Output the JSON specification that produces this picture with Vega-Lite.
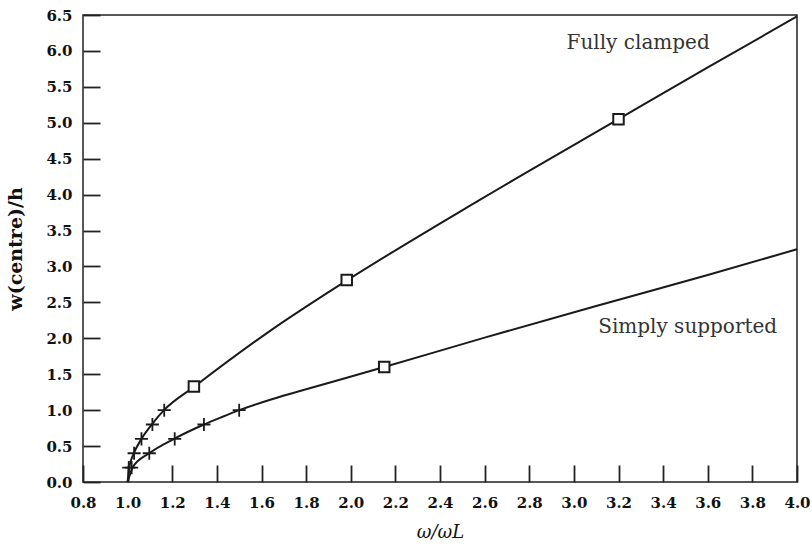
{
  "$schema": "https://vega.github.io/schema/vega-lite/v6.json",
  "width": 714,
  "height": 467,
  "autosize": {"type": "none"},
  "padding": {"left": 83, "top": 15, "right": 15, "bottom": 67},
  "background": "white",
  "config": {
    "view": {"stroke": "#222", "strokeWidth": 1.5},
    "font": "DejaVu Serif",
    "axis": {
      "grid": false,
      "zindex": 2,
      "domain": false,
      "offset": -17,
      "ticks": true,
      "tickColor": "#222",
      "tickWidth": 1.8,
      "tickSize": 17,
      "labelOverlap": false,
      "labelFlush": false,
      "labelFont": "DejaVu Serif",
      "labelFontSize": 15,
      "labelFontWeight": "bold",
      "labelColor": "#111",
      "titleFont": "DejaVu Serif",
      "titleFontWeight": "bold",
      "titleFontSize": 19,
      "titleColor": "#111"
    }
  },
  "datasets": {
    "curves": [
      {"case": "Fully clamped", "ratio": 1.0, "w": 0.0},
      {"case": "Fully clamped", "ratio": 1.007, "w": 0.2},
      {"case": "Fully clamped", "ratio": 1.028, "w": 0.4},
      {"case": "Fully clamped", "ratio": 1.062, "w": 0.6},
      {"case": "Fully clamped", "ratio": 1.108, "w": 0.8},
      {"case": "Fully clamped", "ratio": 1.163, "w": 1.0},
      {"case": "Fully clamped", "ratio": 1.3, "w": 1.33},
      {"case": "Fully clamped", "ratio": 1.637, "w": 2.1},
      {"case": "Fully clamped", "ratio": 1.98, "w": 2.8},
      {"case": "Fully clamped", "ratio": 2.58, "w": 3.93},
      {"case": "Fully clamped", "ratio": 3.2, "w": 5.05},
      {"case": "Fully clamped", "ratio": 3.6, "w": 5.77},
      {"case": "Fully clamped", "ratio": 4.0, "w": 6.48},
      {"case": "Simply supported", "ratio": 1.0, "w": 0.0},
      {"case": "Simply supported", "ratio": 1.022, "w": 0.2},
      {"case": "Simply supported", "ratio": 1.097, "w": 0.4},
      {"case": "Simply supported", "ratio": 1.208, "w": 0.6},
      {"case": "Simply supported", "ratio": 1.342, "w": 0.8},
      {"case": "Simply supported", "ratio": 1.419, "w": 0.9},
      {"case": "Simply supported", "ratio": 1.5, "w": 1.0},
      {"case": "Simply supported", "ratio": 1.65, "w": 1.155},
      {"case": "Simply supported", "ratio": 1.8, "w": 1.29},
      {"case": "Simply supported", "ratio": 2.15, "w": 1.6},
      {"case": "Simply supported", "ratio": 2.6, "w": 2.01},
      {"case": "Simply supported", "ratio": 3.1, "w": 2.45},
      {"case": "Simply supported", "ratio": 3.6, "w": 2.88},
      {"case": "Simply supported", "ratio": 4.0, "w": 3.24}
    ],
    "points": [
      {"case": "Fully clamped", "method": "plus", "ratio": 1.005, "w": 0.2},
      {"case": "Fully clamped", "method": "plus", "ratio": 1.029, "w": 0.4},
      {"case": "Fully clamped", "method": "plus", "ratio": 1.062, "w": 0.6},
      {"case": "Fully clamped", "method": "plus", "ratio": 1.111, "w": 0.8},
      {"case": "Fully clamped", "method": "plus", "ratio": 1.164, "w": 1.0},
      {"case": "Fully clamped", "method": "square", "ratio": 1.297, "w": 1.33},
      {"case": "Fully clamped", "method": "square", "ratio": 1.982, "w": 2.81},
      {"case": "Fully clamped", "method": "square", "ratio": 3.2, "w": 5.05},
      {"case": "Simply supported", "method": "plus", "ratio": 1.018, "w": 0.2},
      {"case": "Simply supported", "method": "plus", "ratio": 1.097, "w": 0.4},
      {"case": "Simply supported", "method": "plus", "ratio": 1.211, "w": 0.6},
      {"case": "Simply supported", "method": "plus", "ratio": 1.342, "w": 0.8},
      {"case": "Simply supported", "method": "plus", "ratio": 1.5, "w": 1.0},
      {"case": "Simply supported", "method": "square", "ratio": 2.15, "w": 1.6}
    ],
    "labels": [
      {"text": "Fully clamped", "ratio": 3.288, "w": 6.11},
      {"text": "Simply supported", "ratio": 3.51, "w": 2.16}
    ]
  },
  "encoding": {
    "x": {
      "field": "ratio", "type": "quantitative",
      "scale": {"domain": [0.8, 4.0], "nice": false, "zero": false},
      "axis": {
        "values": [0.8, 1.0, 1.2, 1.4, 1.6, 1.8, 2.0, 2.2, 2.4, 2.6, 2.8, 3.0, 3.2, 3.4, 3.6, 3.8, 4.0],
        "format": ".1f",
        "labelPadding": 13,
        "title": "ω/ωL",
        "titleFontStyle": "italic",
        "titleFontWeight": "normal",
        "titleFontSize": 18,
        "titlePadding": 13
      }
    },
    "y": {
      "field": "w", "type": "quantitative",
      "scale": {"domain": [0, 6.5], "nice": false},
      "axis": {
        "values": [0, 0.5, 1.0, 1.5, 2.0, 2.5, 3.0, 3.5, 4.0, 4.5, 5.0, 5.5, 6.0, 6.5],
        "format": ".1f",
        "labelPadding": 11,
        "title": "w(centre)/h",
        "titlePadding": 20
      }
    }
  },
  "layer": [
    {
      "data": {"name": "curves"},
      "mark": {"type": "line", "interpolate": "monotone", "color": "#1a1a1a", "strokeWidth": 2},
      "encoding": {"detail": {"field": "case"}}
    },
    {
      "data": {"name": "points"},
      "transform": [{"filter": "datum.method === 'square'"}],
      "mark": {"type": "point", "shape": "square", "filled": true, "fill": "white", "stroke": "#1a1a1a", "strokeWidth": 2, "size": 110, "opacity": 1}
    },
    {
      "data": {"name": "points"},
      "transform": [{"filter": "datum.method === 'plus'"}],
      "mark": {"type": "point", "shape": "M-1,0H1M0,-1V1", "filled": false, "stroke": "#1a1a1a", "strokeWidth": 1.8, "size": 170, "opacity": 1}
    },
    {
      "data": {"name": "labels"},
      "mark": {"type": "text", "font": "DejaVu Serif", "fontSize": 20, "color": "#333", "align": "center", "baseline": "middle"},
      "encoding": {"text": {"field": "text"}}
    }
  ]
}
